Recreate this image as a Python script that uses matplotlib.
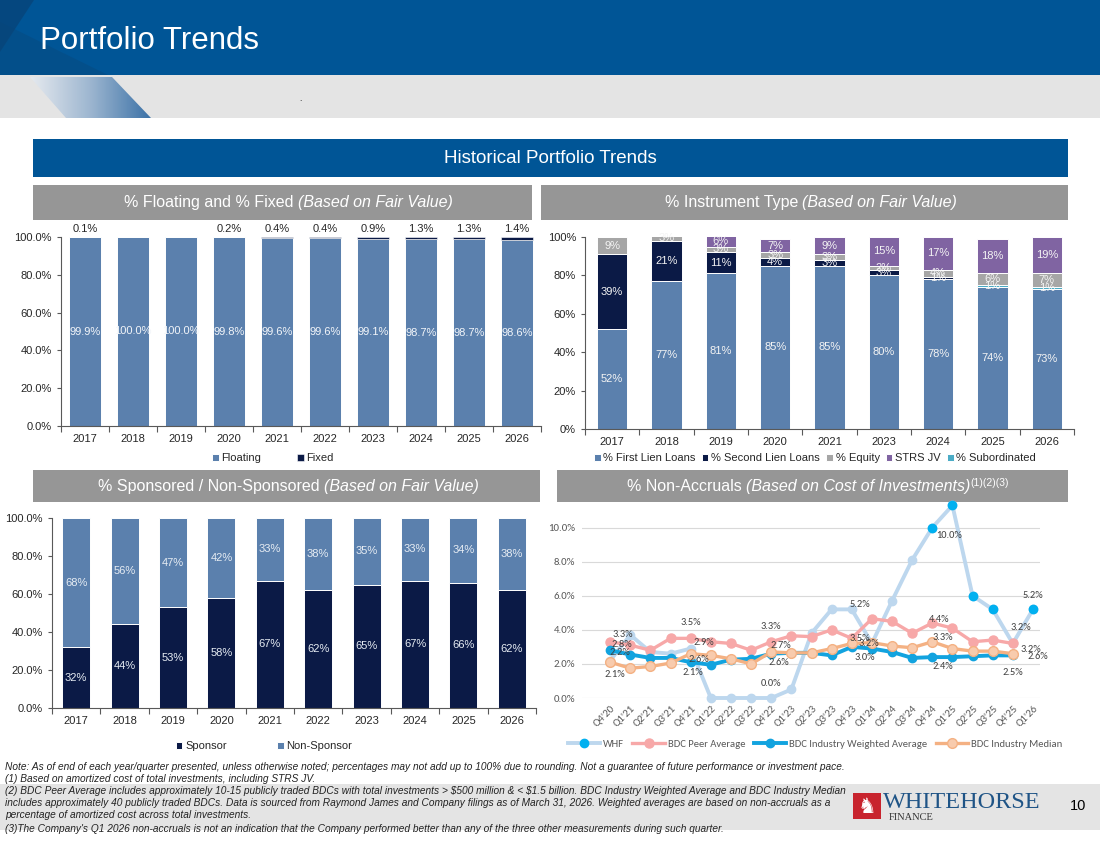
import matplotlib
matplotlib.use('Agg')
import matplotlib.pyplot as plt
from matplotlib import font_manager
from matplotlib.patches import Rectangle, Polygon
from matplotlib.lines import Line2D
from matplotlib.colors import LinearSegmentedColormap
import numpy as np

# ---- data -------------------------------------------------------------
years = ['2017', '2018', '2019', '2020', '2021', '2022', '2023', '2024', '2025', '2026']
floating = [99.9, 100.0, 100.0, 99.8, 99.6, 99.6, 99.1, 98.7, 98.7, 98.6]
fixed = [0.1, 0.0, 0.0, 0.2, 0.4, 0.4, 0.9, 1.3, 1.3, 1.4]

inst_years = ['2017', '2018', '2019', '2020', '2021', '2023', '2024', '2025', '2026']
first_lien = [52, 77, 81, 85, 85, 80, 78, 74, 73]
second_lien = [39, 21, 11, 4, 3, 3, 1, 0, 0]
equity = [9, 3, 3, 3, 3, 2, 4, 6, 7]
strs_jv = [0, 0, 6, 7, 9, 15, 17, 18, 19]
subordinated = [0, 0, 0, 0, 0, 0, 0, 1, 1]

sponsor = [32, 44, 53, 58, 67, 62, 65, 67, 66, 62]
non_sponsor = [68, 56, 47, 42, 33, 38, 35, 33, 34, 38]

quarters = ["Q4'20", "Q1'21", "Q2'21", "Q3'21", "Q4'21", "Q1'22", "Q2'22", "Q3'22",
            "Q4'22", "Q1'23", "Q2'23", "Q3'23", "Q4'23", "Q1'24", "Q2'24", "Q3'24",
            "Q4'24", "Q1'25", "Q2'25", "Q3'25", "Q4'25", "Q1'26"]
whf = [2.2, 3.7, 2.7, 2.6, 2.9, 0.0, 0.0, 0.0, 0.0, 0.5, 3.8, 5.2, 5.2, 3.2, 5.7,
       8.1, 10.0, 11.3, 6.0, 5.2, 3.2, 5.2]
peer_avg = [3.3, 3.1, 2.8, 3.5, 3.5, 3.3, 3.2, 2.8, 3.3, 3.65, 3.6, 4.0, 3.5, 4.65,
            4.5, 3.8, 4.4, 4.1, 3.3, 3.4, 3.2]
weighted_avg = [2.8, 2.55, 2.35, 2.35, 2.1, 1.95, 2.25, 2.3, 2.6, 2.65, 2.65, 2.5,
                3.0, 2.9, 2.7, 2.35, 2.4, 2.4, 2.45, 2.5, 2.5]
median = [2.1, 1.75, 1.85, 2.05, 2.6, 2.5, 2.3, 2.0, 2.7, 2.65, 2.65, 2.9, 3.2,
          3.25, 3.05, 2.95, 3.3, 2.9, 2.75, 2.75, 2.6]

footnotes = [
    "Note: As of end of each year/quarter presented, unless otherwise noted; percentages may not add up to 100% due to rounding. Not a guarantee of future performance or investment pace.",
    "(1) Based on amortized cost of total investments, including STRS JV.",
    "(2) BDC Peer Average includes approximately 10-15 publicly traded BDCs with total investments > $500 million & < $1.5 billion. BDC Industry Weighted Average and BDC Industry Median",
    "includes approximately 40 publicly traded BDCs. Data is sourced from Raymond James and Company filings as of March 31, 2026. Weighted averages are based on non-accruals as a",
    "percentage of amortized cost across total investments.",
    "(3)The Company's Q1 2026 non-accruals is not an indication that the Company performed better than any of the three other measurements during such quarter.",
]


def pick_font(names, fallback):
    have = {f.name for f in font_manager.fontManager.ttflist}
    for n in names:
        if n in have:
            return n
    return fallback


SANS = pick_font(['Liberation Sans', 'Arimo'], 'DejaVu Sans')
NARROW = pick_font(['Liberation Sans Narrow'], SANS)
SERIF = pick_font(['Liberation Serif'], 'DejaVu Serif')
CHART = pick_font(['Carlito', 'Lato', 'Open Sans'], SANS)
plt.rcParams['font.family'] = [SANS, 'DejaVu Sans']

BLUE = '#005596'
GREYBAR = '#969696'
STEEL = '#5b80ad'
NAVY = '#0b1a46'
EQ_GREY = '#a6a6a6'
PURPLE = '#8064a2'
TEAL = '#4bacc6'
TXT = '#262626'

W, H = 1100, 849
fig = plt.figure(figsize=(11, 8.49), dpi=100)
renderer = fig.canvas.get_renderer()

bg = fig.add_axes([0, 0, 1, 1])
bg.axis('off')


def px_rect(x0, y0, x1, y1):
    return [x0 / W, 1 - y1 / H, (x1 - x0) / W, (y1 - y0) / H]


# ---- slide background -------------------------------------------------
bg.add_patch(Rectangle((0, 0), W, 75, color=BLUE, lw=0))
bg.add_patch(Polygon([(0, 0), (34, 0), (0, 52)], color='#0a3f70', alpha=0.6, lw=0))
bg.add_patch(Polygon([(0, 22), (0, 75), (108, 75)], color='#0a4678', alpha=0.4, lw=0))
bg.add_patch(Rectangle((0, 75), W, 43, color='#e4e4e4', lw=0))
poly = Polygon([(30, 77), (112, 77), (151, 118), (66, 118)], closed=True, facecolor='none', lw=0)
bg.add_patch(poly)
grad_cmap = LinearSegmentedColormap.from_list('g', ['#e6eaef', '#9db6d0', '#3c72a7'])
im = bg.imshow(np.linspace(0, 1, 200)[None, :], extent=[30, 151, 118, 77], cmap=grad_cmap,
               aspect='auto', interpolation='bilinear', zorder=2)
im.set_clip_path(poly)
bg.text(300, 103, '.', fontsize=6, color='black', ha='center', va='bottom')
bg.text(40, 41, 'Portfolio Trends', color='white', fontsize=22.5, va='center', ha='left')

bg.add_patch(Rectangle((33, 139), 1035, 38, color=BLUE, lw=0))
bg.text(550, 158, 'Historical Portfolio Trends', color='white', fontsize=13.5, ha='center', va='center')

bg.add_patch(Rectangle((33, 185), 499, 35, color=GREYBAR, lw=0))
bg.add_patch(Rectangle((541, 185), 527, 35, color=GREYBAR, lw=0))
bg.add_patch(Rectangle((33, 470), 507, 32, color=GREYBAR, lw=0))
bg.add_patch(Rectangle((557, 470), 511, 32, color=GREYBAR, lw=0))

bg.add_patch(Rectangle((0, 784), W, 46, color='#e4e4e4', lw=0))
bg.set_xlim(0, W)
bg.set_ylim(H, 0)


def mixed(xc, yb, parts):
    # parts: (text, fontsize, style, dy, gap_after)
    items = []
    for s, fs, style, dy, gap in parts:
        t = bg.text(0, yb + dy, s, fontsize=fs, style=style, color='white', ha='left', va='baseline')
        w = t.get_window_extent(renderer).width
        items.append((t, w, gap))
    total = sum(w + g for _, w, g in items)
    x = xc - total / 2
    for t, w, g in items:
        t.set_x(x)
        x += w + g


mixed(288, 207, [('% Floating and % Fixed', 11.5, 'normal', 0, 4.5),
                 ('(Based on Fair Value)', 11.5, 'italic', 0, 0)])
mixed(811, 207, [('% Instrument Type', 11.5, 'normal', 0, 4.5),
                 ('(Based on Fair Value)', 11.5, 'italic', 0, 0)])
mixed(288, 491, [('% Sponsored / Non-Sponsored', 11.5, 'normal', 0, 4.5),
                 ('(Based on Fair Value)', 11.5, 'italic', 0, 0)])
mixed(818, 491, [('% Non-Accruals', 11.5, 'normal', 0, 4.5),
                 ('(Based on Cost of Investments)', 11.5, 'italic', 0, 0.5),
                 ('(1)(2)(3)', 7.5, 'normal', -5, 0)])

# footnotes, font size fitted so the first line matches the slide width
probe = bg.text(0, 0, footnotes[0], fontsize=7, style='italic', family=[NARROW, 'DejaVu Sans'],
                parse_math=False)
fn_size = 7 * 833 / probe.get_window_extent(renderer).width
probe.remove()
for line, y in zip(footnotes, [767, 779, 791, 803, 815, 829]):
    bg.text(5, y, line, fontsize=fn_size, style='italic', family=[NARROW, 'DejaVu Sans'],
            color='#222222', va='center', ha='left', parse_math=False)

# logo and page number
bg.add_patch(Rectangle((853, 793), 28, 26, color='#c8242e', lw=0))
bg.text(867, 807, '\u265e', fontsize=15, color='white', ha='center', va='center',
        family=['DejaVu Sans'])
bg.text(883, 808, 'WHITEHORSE', fontsize=17.5, family=[SERIF], color='#1f5486', ha='left', va='baseline')
bg.text(889, 820, 'FINANCE', fontsize=7.5, family=[SERIF], color='#333333', ha='left', va='baseline')
bg.text(1078, 806, '10', fontsize=10.5, color='black', ha='center', va='center')


# ---- helpers for the bar charts --------------------------------------
def style_bar_axes(ax, n, labels, fmt):
    ax.set_facecolor('none')
    ax.set_xlim(-0.5, n - 0.5)
    ax.set_ylim(0, 100)
    ax.set_yticks(range(0, 101, 20))
    ax.set_yticklabels([fmt.format(v) for v in range(0, 101, 20)])
    ax.set_xticks(range(n))
    ax.set_xticklabels(labels)
    ax.set_xticks(np.arange(-0.5, n, 1), minor=True)
    ax.tick_params(axis='x', which='major', length=0, labelsize=8, labelcolor=TXT, pad=6)
    ax.tick_params(axis='x', which='minor', length=4, direction='out', color='#595959', width=0.8)
    ax.tick_params(axis='y', length=3, direction='out', color='#595959', width=0.8,
                   labelsize=8, labelcolor=TXT)
    for s in ['top', 'right']:
        ax.spines[s].set_visible(False)
    for s in ['left', 'bottom']:
        ax.spines[s].set_color('#595959')
        ax.spines[s].set_linewidth(0.8)


def place_legend(ax, handles, labels, cx, cy, **kw):
    ax.legend(handles, labels, loc='center', bbox_to_anchor=(cx / W, 1 - cy / H),
              bbox_transform=fig.transFigure, frameon=False, fontsize=8,
              handlelength=0.6, handleheight=0.6, handletextpad=0.25, ncol=len(labels),
              borderaxespad=0, borderpad=0, labelcolor=TXT, **kw)


# ---- % floating / fixed ------------------------------------------------
ax1 = fig.add_axes(px_rect(61, 237, 541, 426))
x = np.arange(len(years))
b1 = ax1.bar(x, floating, 0.65, color=STEEL, edgecolor='white', linewidth=0.7)
b2 = ax1.bar(x, fixed, 0.65, bottom=floating, color=NAVY, edgecolor='white', linewidth=0.4)
style_bar_axes(ax1, len(years), years, '{:.1f}%')
for i, (fl, fx) in enumerate(zip(floating, fixed)):
    ax1.text(i, fl / 2, f'{fl:.1f}%', ha='center', va='center', color='#f2f5f9', fontsize=8)
    if fx > 0:
        ax1.text(i, 101.5, f'{fx:.1f}%', ha='center', va='bottom', color=TXT, fontsize=8)
place_legend(ax1, [b1, b2], ['Floating', 'Fixed'], 273, 458, columnspacing=3.2)

# ---- % instrument type -------------------------------------------------
ax2 = fig.add_axes(px_rect(585, 237, 1074, 429))
x = np.arange(len(inst_years))
bottom = np.zeros(len(inst_years))
handles = {}
for name, vals, col in [('fl', first_lien, STEEL), ('sub', subordinated, TEAL),
                        ('sl', second_lien, NAVY), ('eq', equity, EQ_GREY),
                        ('jv', strs_jv, PURPLE)]:
    vals = np.array(vals, dtype=float)
    handles[name] = ax2.bar(x, vals, 0.56, bottom=bottom, color=col, edgecolor='white', linewidth=0.7)
    for i, v in enumerate(vals):
        if v > 0:
            ax2.text(i, bottom[i] + v / 2, f'{v:.0f}%', ha='center', va='center',
                     color='#f4f4f4', fontsize=8, clip_on=False)
    bottom += vals
style_bar_axes(ax2, len(inst_years), inst_years, '{:.0f}%')
place_legend(ax2, [handles[k] for k in ['fl', 'sl', 'eq', 'jv', 'sub']],
             ['% First Lien Loans', '% Second Lien Loans', '% Equity', 'STRS JV', '% Subordinated'],
             815, 458, columnspacing=0.55)

# ---- % sponsored -------------------------------------------------------
ax3 = fig.add_axes(px_rect(52, 518, 536, 708))
x = np.arange(len(years))
b3 = ax3.bar(x, sponsor, 0.58, color=NAVY, edgecolor='white', linewidth=0.7)
b4 = ax3.bar(x, non_sponsor, 0.58, bottom=sponsor, color=STEEL, edgecolor='white', linewidth=0.7)
style_bar_axes(ax3, len(years), years, '{:.1f}%')
for i, (sp, ns) in enumerate(zip(sponsor, non_sponsor)):
    ax3.text(i, sp / 2, f'{sp}%', ha='center', va='center', color='#e6ecf3', fontsize=8)
    ax3.text(i, sp + ns / 2, f'{ns}%', ha='center', va='center', color='#e6ecf3', fontsize=8)
place_legend(ax3, [b3, b4], ['Sponsor', 'Non-Sponsor'], 264, 746, columnspacing=4.5)

# ---- % non-accruals ----------------------------------------------------
WHF_LINE, WHF_DOT = '#bdd7ee', '#00b0f0'
PEER_C = '#f7a8a8'
WAVG_C = '#12a3df'
MED_C, MED_FACE = '#f4b183', '#f8cbad'
CFONT = [CHART, 'DejaVu Sans']

ax4 = fig.add_axes(px_rect(582, 502, 1040, 698))
ax4.set_facecolor('none')
q = np.arange(len(quarters))
ax4.plot(q, whf, color=WHF_LINE, lw=2.8, marker='o', ms=6, mfc=WHF_LINE, mec=WHF_LINE,
         zorder=3, clip_on=False)
whf_dark = [16, 17, 18, 19, 21]
ax4.plot(q[whf_dark], np.array(whf)[whf_dark], ls='none', marker='o', ms=6, mfc=WHF_DOT,
         mec=WHF_DOT, zorder=3.5, clip_on=False)
ax4.plot(q[:len(peer_avg)], peer_avg, color=PEER_C, lw=2.4, marker='o', ms=6.5, mfc=PEER_C,
         mec=PEER_C, zorder=4, clip_on=False)
ax4.plot(q[:len(weighted_avg)], weighted_avg, color=WAVG_C, lw=2.8, marker='o', ms=6,
         mfc=WAVG_C, mec=WAVG_C, zorder=5, clip_on=False)
ax4.plot(q[:len(median)], median, color=MED_C, lw=2.4, marker='o', ms=7, mfc=MED_FACE,
         mec=MED_C, mew=1.0, zorder=6, clip_on=False)

ax4.set_xlim(-1.4, 21.35)
ax4.set_ylim(0, 11.5)
ax4.set_yticks(range(0, 11, 2))
ax4.set_yticklabels([f'{v:.1f}%' for v in range(0, 11, 2)], family=CFONT)
ax4.yaxis.grid(True, color='#d9d9d9', lw=0.8)
ax4.set_axisbelow(True)
ax4.set_xticks(q)
ax4.set_xticklabels(quarters, rotation=45, ha='right', rotation_mode='anchor', family=CFONT)
ax4.tick_params(length=0, labelsize=7.8, labelcolor='#595959')
ax4.tick_params(axis='x', pad=4)
ax4.tick_params(axis='y', pad=5)
for s in ax4.spines.values():
    s.set_visible(False)

series = {'whf': whf, 'peer': peer_avg, 'wavg': weighted_avg, 'med': median}
# (series, quarter index, dx px, dy px) - dy positive is downward
label_pos = [
    ('peer', 0, 13, -7), ('wavg', 0, 12, -6), ('whf', 0, 10, -8), ('med', 0, 5, 12),
    ('peer', 4, 0, -16), ('whf', 4, 13, -6), ('med', 4, 8, 6), ('wavg', 4, 2, 10),
    ('peer', 8, 0, -15), ('med', 8, 10, -6), ('wavg', 8, 8, 9), ('whf', 8, 0, -15),
    ('whf', 12, 8, -5), ('peer', 12, 8, 0), ('med', 12, 17, 0), ('wavg', 12, 13, 11),
    ('peer', 16, 7, -4), ('med', 16, 11, -4), ('wavg', 16, 11, 9), ('whf', 16, 17, 8),
    ('whf', 20, 8, -16), ('peer', 20, 18, 6), ('med', 20, 25, 3), ('wavg', 20, 0, 17),
    ('whf', 21, 0, -14),
]
for key, i, dx, dy in label_pos:
    v = series[key][i]
    ax4.annotate(f'{v:.1f}%', (i, v), xytext=(dx * 0.72, -dy * 0.72), textcoords='offset points',
                 ha='center', va='center', fontsize=7.5, color='#404040',
                 family=CFONT, zorder=8, annotation_clip=False)

leg_handles = [
    Line2D([], [], color=WHF_LINE, lw=2.8, marker='o', ms=6, mfc=WHF_DOT, mec=WHF_DOT),
    Line2D([], [], color=PEER_C, lw=2.4, marker='o', ms=6.5, mfc=PEER_C, mec=PEER_C),
    Line2D([], [], color=WAVG_C, lw=2.8, marker='o', ms=6, mfc=WAVG_C, mec=WAVG_C),
    Line2D([], [], color=MED_C, lw=2.4, marker='o', ms=7, mfc=MED_FACE, mec=MED_C),
]
ax4.legend(leg_handles, ['WHF', 'BDC Peer Average', 'BDC Industry Weighted Average', 'BDC Industry Median'],
           loc='center', bbox_to_anchor=(815 / W, 1 - 744 / H), bbox_transform=fig.transFigure,
           ncol=4, frameon=False, handlelength=3.0, handletextpad=0.3, columnspacing=0.8,
           borderaxespad=0, borderpad=0, numpoints=1,
           prop={'family': CFONT, 'size': 7.7}, labelcolor='#595959')

fig.savefig('out.png', dpi=100)
